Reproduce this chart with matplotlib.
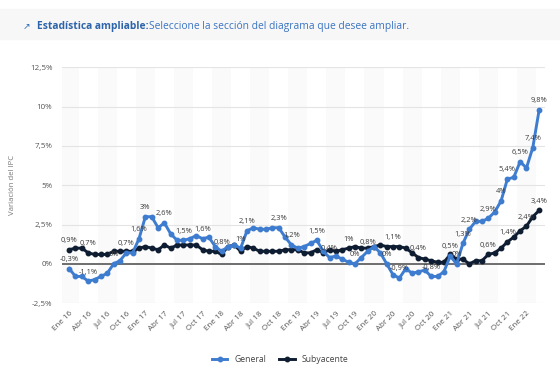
import numpy as np
import matplotlib
matplotlib.use("Agg")
import matplotlib.pyplot as plt

# Variación del IPC (%), mensual ene 2016 - mar 2022
general = [
    -0.3, -0.8, -0.8, -1.1, -1.0, -0.8, -0.6, 0.0, 0.2, 0.7, 0.7, 1.6,
    3.0, 3.0, 2.3, 2.6, 1.9, 1.5, 1.5, 1.6, 1.8, 1.6, 1.7, 1.1,
    0.8, 1.1, 1.2, 1.0, 2.1, 2.3, 2.2, 2.2, 2.3, 2.3, 1.7, 1.2,
    1.0, 1.1, 1.3, 1.5, 0.8, 0.4, 0.5, 0.3, 0.1, 0.0, 0.4, 0.8,
    1.1, 0.7, 0.0, -0.7, -0.9, -0.3, -0.6, -0.5, -0.4, -0.8, -0.8, -0.5,
    0.5, 0.0, 1.3, 2.2, 2.7, 2.7, 2.9, 3.3, 4.0, 5.4, 5.5, 6.5,
    6.1, 7.4, 9.8,
]
subyacente = [
    0.9, 1.0, 1.0, 0.7, 0.6, 0.6, 0.6, 0.8, 0.8, 0.8, 0.8, 1.0,
    1.1, 1.0, 0.9, 1.2, 1.0, 1.2, 1.2, 1.2, 1.2, 0.9, 0.8, 0.8,
    0.6, 1.1, 1.2, 0.8, 1.1, 1.0, 0.8, 0.8, 0.8, 0.8, 0.9, 0.9,
    0.9, 0.7, 0.7, 0.9, 0.7, 0.9, 0.8, 0.9, 1.0, 1.1, 1.0, 1.0,
    1.1, 1.2, 1.1, 1.1, 1.1, 1.0, 0.7, 0.4, 0.3, 0.2, 0.1, 0.1,
    0.6, 0.3, 0.3, 0.0, 0.2, 0.2, 0.6, 0.7, 1.0, 1.4, 1.7, 2.1,
    2.4, 3.0, 3.4,
]
general_labels = [0, 3, 7, 9, 11, 12, 15, 18, 21, 24, 27, 28, 33, 35, 39, 41,
                  45, 47, 50, 52, 57, 60, 61, 62, 63, 66, 68, 69, 71, 73, 74]
sub_labels = [0, 3, 44, 51, 55, 66, 69, 72, 74]

meses = ["Ene", "Abr", "Jul", "Oct"]
tick_pos = list(range(0, 73, 3))
tick_lbl = [f"{meses[(p // 3) % 4]} {16 + p // 12}" for p in tick_pos]
yticks = [-2.5, 0, 2.5, 5, 7.5, 10, 12.5]

c_gen = "#3e7cd0"
c_sub = "#0f1d33"


def fmt(v):
    s = f"{v:.1f}".replace(".", ",")
    if s.endswith(",0"):
        s = s[:-2]
    if s == "-0":
        s = "0"
    return s + "%"


plt.rcParams["font.family"] = ["Open Sans", "DejaVu Sans"]
fig = plt.figure(figsize=(5.6, 3.72), dpi=100)

# header band
fig.patches.append(plt.Rectangle((0, 0.895), 1, 0.08, transform=fig.transFigure,
                                 color="#f7f7f7", zorder=0))
fig.text(0.040, 0.929, "↗", fontsize=6.5, color="#2e6bb8", va="center",
         family="DejaVu Sans")
t = fig.text(0.066, 0.929, "Estadística ampliable:", fontsize=7.4, color="#2e64aa",
             fontweight="bold", va="center")
fig.canvas.draw()
bb = t.get_window_extent()
fig.text(bb.x1 / fig.bbox.width, 0.929,
         "Seleccione la sección del diagrama que desee ampliar.",
         fontsize=7.4, color="#3a74c2", va="center")

ax = fig.add_axes([0.111, 0.185, 0.862, 0.634])
x = np.arange(len(general))

for k, p in enumerate(tick_pos):
    if k % 2 == 0:
        ax.axvspan(p - 1.5, p + 1.5, color="#fafafa", zorder=0, lw=0)

for y in yticks:
    if y != 0:
        ax.axhline(y, color="#e4e4e4", lw=0.8, zorder=1)
ax.axhline(0, color="#6e6e6e", lw=1.4, zorder=2)

ax.plot(x, general, color=c_gen, lw=2.1, marker="o", ms=3.2, zorder=4,
        label="General")
ax.plot(x, subyacente, color=c_sub, lw=2.1, marker="o", ms=3.2, zorder=3,
        label="Subyacente")

for i in general_labels:
    ax.annotate(fmt(general[i]), (x[i], general[i]), xytext=(0, 4),
                textcoords="offset points", ha="center", va="bottom",
                fontsize=5.4, color="#3a3a3a", zorder=5)
for i in sub_labels:
    ax.annotate(fmt(subyacente[i]), (x[i], subyacente[i]), xytext=(0, 4),
                textcoords="offset points", ha="center", va="bottom",
                fontsize=5.4, color="#3a3a3a", zorder=5)

ax.set_xlim(-1.1, 74.9)
ax.set_ylim(-2.5, 12.5)
ax.set_yticks(yticks)
ax.set_yticklabels([fmt(v) for v in yticks])
ax.set_xticks(tick_pos)
ax.set_xticklabels(tick_lbl, rotation=45, ha="right", rotation_mode="anchor")
ax.tick_params(axis="both", length=0, labelsize=5.8, labelcolor="#555555")
ax.tick_params(axis="x", pad=5)
ax.tick_params(axis="y", pad=7)
for s in ax.spines.values():
    s.set_visible(False)
ax.set_ylabel("Variación del IPC", fontsize=5.6, color="#777777", labelpad=10)

fig.legend(loc="lower center", bbox_to_anchor=(0.5, 0.0), ncol=2, frameon=False,
           fontsize=6.2, handlelength=1.8, columnspacing=1.5, labelcolor="#444444")

fig.savefig("out.png", dpi=100, facecolor="white")
